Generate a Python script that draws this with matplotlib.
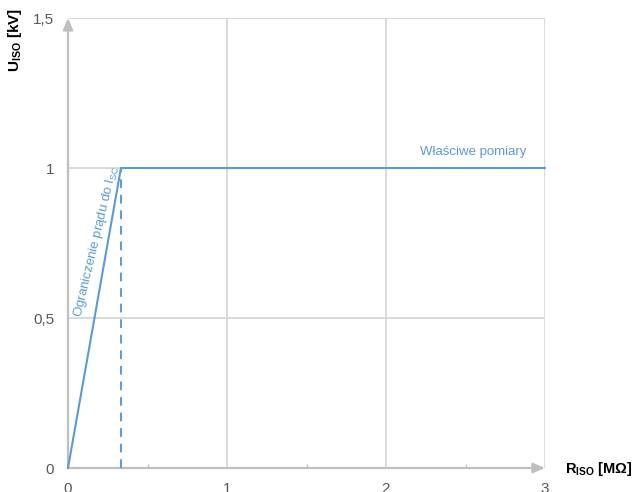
import matplotlib
matplotlib.use('Agg')
import matplotlib.pyplot as plt

plt.rcParams['font.family'] = ['Liberation Sans', 'DejaVu Sans']
plt.rcParams['mathtext.fontset'] = 'custom'
plt.rcParams['mathtext.rm'] = 'Liberation Sans'
plt.rcParams['mathtext.bf'] = 'Liberation Sans:bold'
plt.rcParams['mathtext.it'] = 'Liberation Sans:italic'

# characteristic: current limited ramp, then constant voltage
r_iso = [0, 0.333, 3]
u_iso = [0, 1, 1]
r_limit = 0.333
x_ticks = [0, 1, 2, 3]
x_minor = [0.5, 1.5, 2.5]
y_ticks = [0, 0.5, 1, 1.5]
y_labels = ['0', '0,5', '1', '1,5']

blue = '#5b9bd5'
grid_c = '#d9d9d9'
axis_c = '#bfbfbf'
text_c = '#595959'

fig = plt.figure(figsize=(6.33, 4.92), dpi=100)
ax = fig.add_axes([68/633, 24/492, (545-68)/633, (468-18)/492])
ax.set_xlim(0, 3)
ax.set_ylim(0, 1.5)

# grid
for x in x_ticks[1:]:
    ax.axvline(x, color=grid_c, lw=1.4, zorder=0)
for y in y_ticks[1:]:
    ax.axhline(y, color=grid_c, lw=1.4, zorder=0)

for s in ax.spines.values():
    s.set_visible(False)

# axes with arrows
ax.annotate('', xy=(3, 0), xytext=(0, 0), annotation_clip=False,
            arrowprops=dict(arrowstyle='-|>,head_length=0.7,head_width=0.3',
                            color=axis_c, lw=1.6, shrinkA=0, shrinkB=0))
ax.annotate('', xy=(0, 1.5), xytext=(0, 0), annotation_clip=False,
            arrowprops=dict(arrowstyle='-|>,head_length=0.7,head_width=0.3',
                            color=axis_c, lw=1.6, shrinkA=0, shrinkB=0))

ax.plot(r_iso, u_iso, color=blue, lw=1.5, zorder=3, clip_on=False)
ax.plot([r_limit, r_limit], [0, u_iso[1]], color=blue, lw=1.4,
        dashes=(4.5, 3.5), zorder=3)

ax.set_xticks(x_ticks)
ax.set_xticklabels([str(x) for x in x_ticks])
ax.set_xticks(x_minor, minor=True)
ax.set_yticks(y_ticks)
ax.set_yticklabels(y_labels)
ax.tick_params(axis='both', which='major', length=0, labelsize=11,
               labelcolor=text_c)
ax.tick_params(axis='x', which='major', pad=10)
ax.tick_params(axis='y', which='major', pad=10)
ax.tick_params(axis='x', which='minor', direction='in', length=3,
               color=axis_c, width=1)

ax.text(2.55, 1.053, 'Właściwe pomiary', color=blue, fontsize=9.5,
        ha='center', va='center')
ax.text(0.178, 0.755, r'Ograniczenie prądu do $\mathrm{I}_{\mathrm{SC}}$',
        color=blue, fontsize=9.5, rotation=76.5, ha='center', va='center',
        rotation_mode='anchor')

fig.text(15/633, 1 - 40/492, r'$\mathbf{U}_{\mathbf{ISO}}$ [kV]',
         rotation=90, ha='center', va='center', fontsize=11,
         fontweight='bold', color='black')
fig.text(565/633, 1 - 469/492, r'$\mathbf{R}_{\mathbf{ISO}}$ [MΩ]',
         ha='left', va='center', fontsize=10.5, fontweight='bold',
         color='black')

fig.savefig('out.png', dpi=100)
